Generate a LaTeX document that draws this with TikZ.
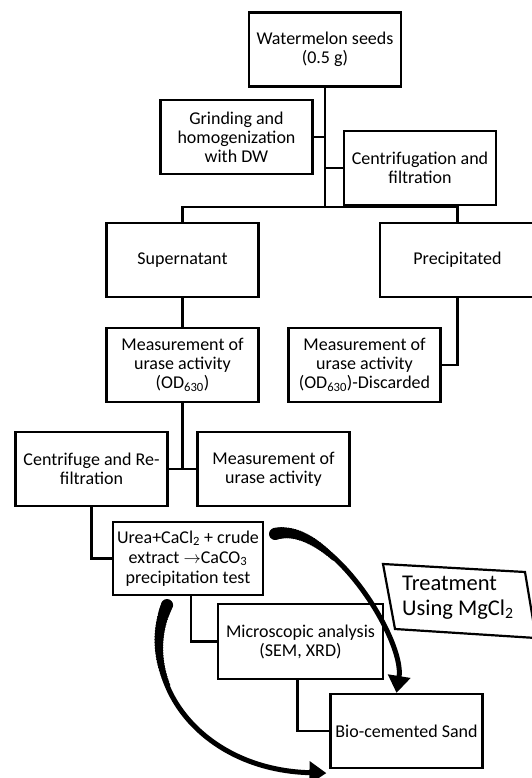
\documentclass[tikz,border=0pt]{standalone}
\usepackage{fontspec}
\setmainfont{Carlito}
\usepackage{tikz}
\usetikzlibrary{arrows.meta, positioning, calc, decorations.markings}

\begin{document}
\begin{tikzpicture}[
  x=1pt, y=1pt,
  font=\fontsize{18}{19}\selectfont,
  box/.style={draw,line width=2.2pt,align=center,minimum width=152pt,minimum height=74pt,inner sep=0pt},
  link/.style={line width=2.2pt},
  loop/.style={line width=5pt,-{Triangle[length=17pt,width=22pt]},
    decoration={markings,
      mark=between positions 0 and 0.3 step 0.01 with {
        \pgfmathsetmacro\taperr{6.2-0.11*\pgfkeysvalueof{/pgf/decoration/mark info/sequence number}}
        \fill (0,0) circle (\taperr pt);}},
    postaction={decorate}},
  note/.style={font=\fontsize{22.5}{25}\selectfont,align=left,inner sep=0pt}
]
\useasboundingbox (0,0) rectangle (532,-778);

\node[box] (seeds) at (325,-49.5) {Watermelon seeds\\(0.5 g)};
\node[box] (grind) at (236.5,-137) {Grinding and\\homogenization\\with DW};
\node[box] (centr) at (420,-168) {Centrifugation and\\filtration};
\node[box] (super) at (182.5,-260) {Supernatant};
\node[box,minimum width=155pt] (precip) at (457.5,-260) {Precipitated};
\node[box] (meas) at (182.5,-365) {Measurement of\\urase activity\\(OD\textsubscript{630})};
\node[box] (discard) at (364.5,-365) {Measurement of\\urase activity\\(OD\textsubscript{630})-Discarded};
\node[box] (refilt) at (91.5,-469) {Centrifuge and Re-\\filtration};
\node[box] (remeas) at (273.5,-469) {Measurement of\\urase activity};
\node[box,minimum width=150pt,minimum height=73pt,font=\fontsize{18}{20}\selectfont] (urea) at (188,-558.5) {Urea+CaCl\textsubscript{2} + crude\\extract $\rightarrow$CaCO\textsubscript{3}\\precipitation test};
\node[box,minimum width=165pt,minimum height=75pt] (micro) at (300.5,-641.5) {Microscopic analysis\\(SEM, XRD)};
\node[box] (bio) at (406.5,-731) {Bio-cemented Sand};

\node[note,anchor=west] (treat) at (402,-598) {Treatment\\Using MgCl\textsubscript{2}};
\draw[link] (383,-564) -- (525,-572) -- (536,-638) -- (395,-629) -- cycle;

\coordinate (bar) at (325,-207);
\draw[link] (seeds.south) -- (bar);
\draw[link] (grind.east) -- (grind.east -| bar);
\draw[link] (centr.west) -- (centr.west -| bar);
\draw[link] (super.north) |- (bar) -| (precip.north);
\draw[link] (super) -- (meas);
\draw[link] (precip.south) |- (discard.east);
\draw[link] (meas.south) -- (meas.south |- refilt.east);
\draw[link] (refilt.east) -- (remeas.west);
\draw[link] (refilt.south) |- (urea.west);
\draw[link] ([xshift=3pt]urea.south) |- (micro.west);
\draw[link] ([xshift=-3pt]micro.south) |- (bio.west);

\draw[loop] ([shift={(11,-13)}]urea.north east) .. controls (330,-520) and (405,-640) .. ([xshift=-10pt]bio.north);
\draw[loop] ([shift={(-21,-9)}]urea.south) .. controls (135,-680) and (200,-770) .. ([shift={(-3,-4)}]bio.south west);
\end{tikzpicture}
\end{document}
